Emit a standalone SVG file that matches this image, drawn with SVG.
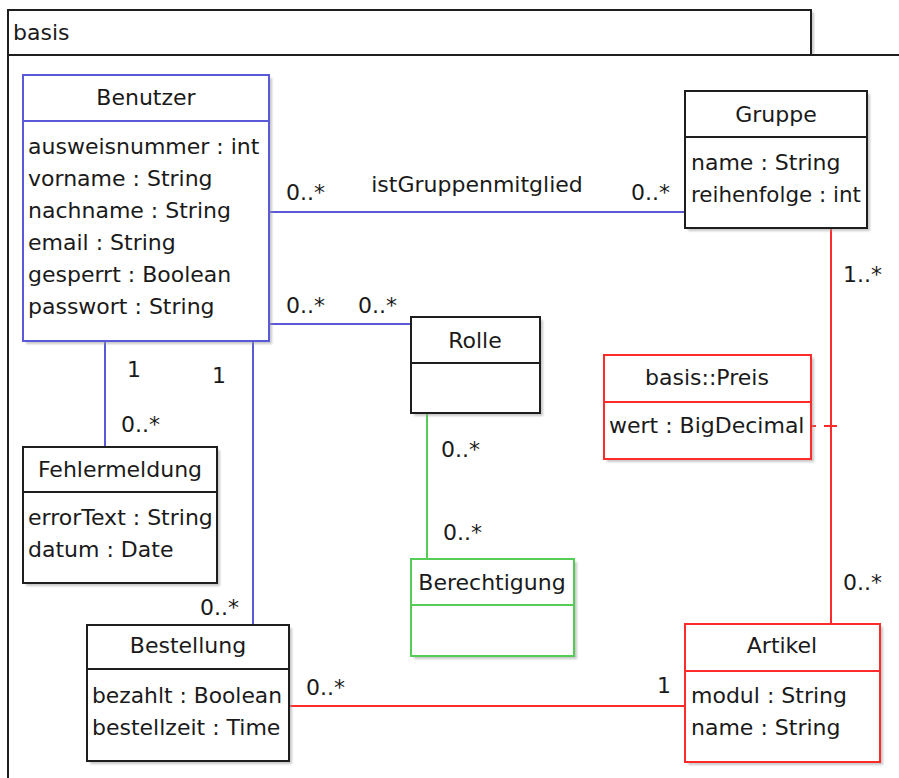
<svg xmlns="http://www.w3.org/2000/svg" width="899" height="778" viewBox="0 0 899 778">
  <style>
    text { font-family: "DejaVu Sans", "Liberation Sans", sans-serif; font-size: 22px; fill: #1a1a1a; }
    .title { text-anchor: middle; }
    .box { fill: #ffffff; stroke-width: 2; }
    .shadow { fill: #9a9a9a; opacity: 0.55; filter: url(#soft); }
    .blk { stroke: #1e1e1e; }
    .blue { stroke: #5a5ad8; }
    .red { stroke: #ff2a2a; }
    .green { stroke: #55cc55; }
    .conn line { stroke-width: 2; fill: none; }
    .sep { stroke-width: 2; }
  </style>
  <defs>
    <filter id="soft" x="-5%" y="-5%" width="110%" height="110%">
      <feGaussianBlur stdDeviation="1"/>
    </filter>
  </defs>

  <rect width="899" height="778" fill="#ffffff"/>

  <!-- package frame -->
  <g id="package-basis">
    <rect x="811" y="12" width="3" height="43" class="shadow"/>
    <path d="M8,778 V10 H811 V55" fill="none" stroke="#1e1e1e" stroke-width="2"/>
    <line x1="8" y1="55" x2="899" y2="55" stroke="#1e1e1e" stroke-width="2"/>
    <text x="13" y="40">basis</text>
  </g>

  <!-- connectors -->
  <g id="connectors" class="conn">
    <line class="blue" x1="269" y1="212" x2="685" y2="212"/>
    <line class="blue" x1="269" y1="324" x2="411" y2="324"/>
    <line class="blue" x1="105" y1="341" x2="105" y2="447"/>
    <line class="blue" x1="253" y1="341" x2="253" y2="625"/>
    <line class="green" x1="427" y1="413" x2="427" y2="559"/>
    <line class="red" x1="831" y1="228" x2="831" y2="624"/>
    <line class="red" x1="289" y1="706" x2="685" y2="706"/>
    <line class="red" x1="812" y1="426" x2="837" y2="426" stroke-dasharray="4 8 13"/>

    <text x="286" y="200">0..*</text>
    <text x="477" y="192" class="title">istGruppenmitglied</text>
    <text x="631" y="200">0..*</text>
    <text x="286" y="313">0..*</text>
    <text x="358" y="313">0..*</text>
    <text x="127" y="377">1</text>
    <text x="121" y="432">0..*</text>
    <text x="212" y="383">1</text>
    <text x="200" y="615">0..*</text>
    <text x="441" y="457">0..*</text>
    <text x="443" y="540">0..*</text>
    <text x="843" y="282">1..*</text>
    <text x="843" y="590">0..*</text>
    <text x="306" y="695">0..*</text>
    <text x="657" y="693">1</text>
  </g>

  <!-- classes -->
  <g id="Benutzer">
    <rect x="26" y="78" width="246" height="266" class="shadow"/>
    <rect x="23" y="75" width="246" height="266" class="box blue"/>
    <line x1="23" y1="121" x2="269" y2="121" class="sep blue"/>
    <text x="146" y="105" class="title">Benutzer</text>
    <text x="28" y="154">ausweisnummer : int</text>
    <text x="28" y="186">vorname : String</text>
    <text x="28" y="218">nachname : String</text>
    <text x="28" y="250">email : String</text>
    <text x="28" y="282">gesperrt : Boolean</text>
    <text x="28" y="314">passwort : String</text>
  </g>

  <g id="Gruppe">
    <rect x="688" y="94" width="182" height="137" class="shadow"/>
    <rect x="685" y="91" width="182" height="137" class="box blk"/>
    <line x1="685" y1="137" x2="867" y2="137" class="sep blk"/>
    <text x="776" y="122" class="title">Gruppe</text>
    <text x="691" y="170">name : String</text>
    <text x="691" y="202" textLength="170" lengthAdjust="spacingAndGlyphs">reihenfolge : int</text>
  </g>

  <g id="Rolle">
    <rect x="414" y="320" width="129" height="96" class="shadow"/>
    <rect x="411" y="317" width="129" height="96" class="box blk"/>
    <line x1="411" y1="363" x2="540" y2="363" class="sep blk"/>
    <text x="475" y="348" class="title">Rolle</text>
  </g>

  <g id="Berechtigung">
    <rect x="414" y="562" width="163" height="97" class="shadow"/>
    <rect x="411" y="559" width="163" height="97" class="box green"/>
    <line x1="411" y1="605" x2="574" y2="605" class="sep green"/>
    <text x="492" y="590" class="title">Berechtigung</text>
  </g>

  <g id="Preis">
    <rect x="607" y="358" width="207" height="104" class="shadow"/>
    <rect x="604" y="355" width="207" height="104" class="box red"/>
    <line x1="604" y1="402" x2="811" y2="402" class="sep red"/>
    <text x="707" y="385" class="title">basis::Preis</text>
    <text x="609" y="433">wert : BigDecimal</text>
  </g>

  <g id="Fehlermeldung">
    <rect x="26" y="450" width="194" height="136" class="shadow"/>
    <rect x="23" y="447" width="194" height="136" class="box blk"/>
    <line x1="23" y1="492" x2="217" y2="492" class="sep blk"/>
    <text x="120" y="477" class="title">Fehlermeldung</text>
    <text x="28" y="525">errorText : String</text>
    <text x="28" y="557">datum : Date</text>
  </g>

  <g id="Bestellung">
    <rect x="90" y="628" width="202" height="136" class="shadow"/>
    <rect x="87" y="625" width="202" height="136" class="box blk"/>
    <line x1="87" y1="669" x2="289" y2="669" class="sep blk"/>
    <text x="188" y="653" class="title">Bestellung</text>
    <text x="92" y="703" textLength="190" lengthAdjust="spacingAndGlyphs">bezahlt : Boolean</text>
    <text x="92" y="735">bestellzeit : Time</text>
  </g>

  <g id="Artikel">
    <rect x="688" y="627" width="195" height="138" class="shadow"/>
    <rect x="685" y="624" width="195" height="138" class="box red"/>
    <line x1="685" y1="671" x2="880" y2="671" class="sep red"/>
    <text x="782" y="653" class="title">Artikel</text>
    <text x="691" y="703">modul : String</text>
    <text x="691" y="735">name : String</text>
  </g>
</svg>
